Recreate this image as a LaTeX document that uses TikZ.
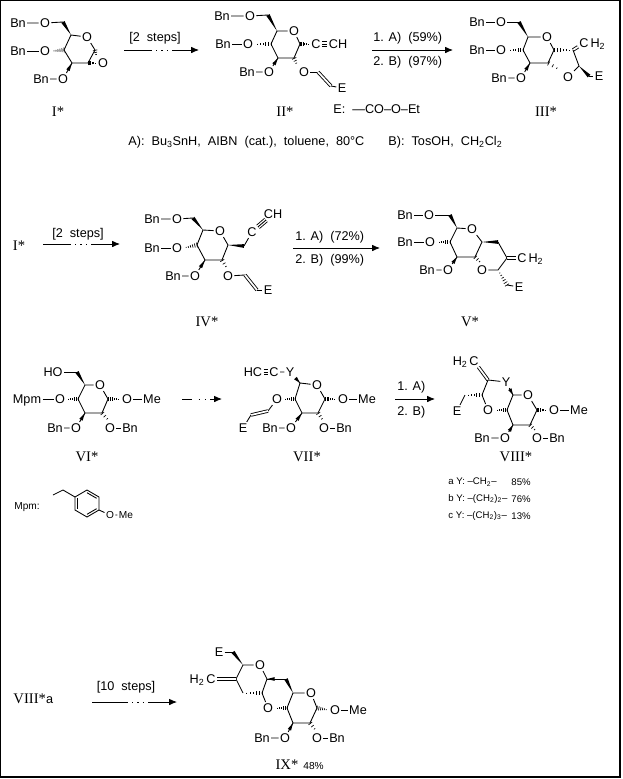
\documentclass[tikz,border=0pt]{standalone}
\usepackage{fontspec}
\setmainfont{Liberation Sans}
\newfontfamily\serifnum{Liberation Serif}
\usetikzlibrary{arrows.meta,calc,positioning}
\newcommand\chemfont{\fontsize{9.5}{11}\selectfont}
\newcommand\smallchem{\fontsize{7.6}{9}\selectfont}
\newcommand\tablefont{\fontsize{7.2}{9}\selectfont}
\newcommand\cmpdfont{\serifnum\fontsize{11}{13}\selectfont}
% bold wedge: narrow at #2, wide end at fraction #1 toward #3
\newcommand\wedgebond[3][1]{\fill ($(#2)$) -- ($(#2)!#1!(#3)!1.4pt!90:(#2)$) -- ($(#2)!#1!(#3)!1.4pt!-90:(#2)$) -- cycle;}
% hashed wedge: narrow at #2, wide at #3
\newcommand\hashbond[3][0.2,0.36,0.52,0.68,0.84,1]{\foreach \hs in {#1}{\draw[line width=0.5pt] ($(#2)!\hs!(#3)!\hs*1.8pt!90:(#2)$) -- ($(#2)!\hs!(#3)!\hs*1.8pt!-90:(#2)$);}}
\begin{document}
\begin{tikzpicture}[x=0.75pt,y=0.75pt,yscale=-1,line width=0.65pt,
  atom/.style={inner sep=0.8pt,text height=6.8pt,text depth=0pt,font=\chemfont},
  satom/.style={atom,text height=5.4pt,font=\smallchem},
  sub/.style={inner sep=0pt,font=\chemfont},
  txt/.style={inner sep=0pt,anchor=west,font=\chemfont},
  stxt/.style={txt,font=\smallchem},
  ttxt/.style={txt,font=\tablefont},
  cmpd/.style={inner sep=0pt,font=\cmpdfont},
  dbl/.style={double,double distance=1.3pt},
  trpl/.style={double,double distance=2.6pt},
  rxn/.style={-{Latex[length=6pt,width=5pt]}},
  stepsarrow/.style={rxn,dash pattern=on #1 off 3pt on 1.1pt off 3pt on 1.1pt off 3pt on 1.1pt off 3pt on 80pt}]
\useasboundingbox (0,0) rectangle (622,779);
\draw[line width=1.1pt] (0.75,0.75) rectangle (620,777);

% I*
\node[atom] (p1bn6) at (18,23) {Bn};
\node[atom] (p1o6) at (45,23) {O};
\coordinate (p1c6) at (63,22);
\coordinate (p1c5) at (71,35);
\node[atom] (p1o5) at (87,37) {O};
\coordinate (p1c1) at (95,50);
\coordinate (p1c2) at (88,63);
\coordinate (p1c3) at (72,63);
\coordinate (p1c4) at (64,50);
\node[atom] (p1bn4) at (18,51) {Bn};
\node[atom] (p1o4) at (45,51) {O};
\node[atom] (p1bn3) at (41,79) {Bn};
\node[atom] (p1o3) at (63,79) {O};
\node[atom] (p1o1) at (103,63) {O};
\node[cmpd] (p1) at (58,112) {I*};
\draw (p1bn6) -- (p1o6) -- (p1c6);
\wedgebond{p1c5}{p1c6}
\draw (p1c1) -- (p1c2) -- (p1c3) -- (p1c4) -- (p1c5) -- (p1o5) -- (p1c1);
\draw (p1bn4) -- (p1o4);
\hashbond{p1o4.east}{p1c4}
\draw (p1bn3) -- (p1o3) -- (p1c3);
\wedgebond[0.45]{p1c3}{p1o3}
\hashbond[0.35,0.65,0.95]{p1o1.north west}{p1c1}
\hashbond{p1o1.west}{p1c2}

% I* -> II*
\coordinate (r1a) at (124,50);
\coordinate (r1b) at (199,50);
\draw[stepsarrow=21pt] (r1a) -- (r1b);
\node[txt,anchor=center] (r1t) at (155,38) {[2\ \ steps]};

% II*
\node[atom] (p2bn6) at (222,16) {Bn};
\node[atom] (p2o6) at (250,16) {O};
\coordinate (p2c6) at (268,15);
\coordinate (p2c5) at (277,31);
\node[atom] (p2o5) at (294,31) {O};
\coordinate (p2c1) at (300,44);
\coordinate (p2c2) at (294,58);
\coordinate (p2c3) at (278,58);
\coordinate (p2c4) at (271,44);
\node[atom] (p2bn4) at (223,44) {Bn};
\node[atom] (p2o4) at (248,44) {O};
\node[atom] (p2bn3) at (247,72) {Bn};
\node[atom] (p2o3) at (269,72) {O};
\node[atom] (p2ca) at (316,44) {C};
\node[atom] (p2cb) at (338,44) {CH};
\node[atom] (p2o2) at (304,72) {O};
\coordinate (p2v1) at (318,72);
\coordinate (p2v2) at (331,86);
\node[atom] (p2e) at (342,88) {E};
\node[cmpd] (p2) at (285,112) {II*};
\draw (p2bn6) -- (p2o6) -- (p2c6);
\wedgebond{p2c5}{p2c6}
\draw (p2c1) -- (p2c2) -- (p2c3) -- (p2c4) -- (p2c5) -- (p2o5) -- (p2c1);
\draw (p2bn4) -- (p2o4);
\hashbond{p2o4.east}{p2c4}
\draw (p2bn3) -- (p2o3) -- (p2c3);
\wedgebond[0.45]{p2c3}{p2o3}
\hashbond{p2ca.west}{p2c1}
\draw[trpl] (p2ca) -- (p2cb);
\draw (p2ca) -- (p2cb);
\hashbond[0.35,0.65,0.95]{p2o2.north west}{p2c2}
\draw (p2o2) -- (p2v1);
\draw[dbl] (p2v1) -- (p2v2);
\draw (p2v2) -- (p2e);
\node[txt] (p2def) at (333,109) {E:\ \ —CO–O–Et};

% II* -> III*
\coordinate (r2a) at (372,50);
\coordinate (r2b) at (453,50);
\draw[rxn] (r2a) -- (r2b);
\node[txt] (r2t) at (373,38) {1. A)\ \ (59\%)};
\node[txt] (r2u) at (373,62) {2. B)\ \ (97\%)};

% III*
\node[atom] (p3bn6) at (477,22) {Bn};
\node[atom] (p3o6) at (501,22) {O};
\coordinate (p3c6) at (519,22);
\coordinate (p3c5) at (528,37);
\node[atom] (p3o5) at (547,37) {O};
\coordinate (p3c1) at (554,50);
\coordinate (p3c2) at (548,63);
\coordinate (p3c3) at (530,63);
\coordinate (p3c4) at (523,50);
\node[atom] (p3bn4) at (477,50) {Bn};
\node[atom] (p3o4) at (501,50) {O};
\node[atom] (p3bn3) at (499,78) {Bn};
\node[atom] (p3o3) at (521,78) {O};
\coordinate (p3c7) at (573,50);
\node[atom] (p3cm) at (584,43) {C};
\node[sub,anchor=base west] (p3h2) at (p3cm.base east) {H\textsubscript{2}};
\coordinate (p3c8) at (579,66);
\node[atom] (p3o7) at (568,77) {O};
\coordinate (p3w) at (589,76);
\node[atom] (p3e) at (599,76) {E};
\node[cmpd] (p3) at (546,112) {III*};
\draw (p3bn6) -- (p3o6) -- (p3c6);
\wedgebond{p3c5}{p3c6}
\draw (p3c1) -- (p3c2) -- (p3c3) -- (p3c4) -- (p3c5) -- (p3o5) -- (p3c1);
\draw (p3bn4) -- (p3o4);
\hashbond{p3o4.east}{p3c4}
\draw (p3bn3) -- (p3o3) -- (p3c3);
\wedgebond[0.45]{p3c3}{p3o3}
\hashbond{p3c7}{p3c1}
\draw[dbl] (p3c7) -- (p3cm);
\draw (p3c7) -- (p3c8) -- (p3o7);
\hashbond[0.35,0.65,0.95]{p3o7.north west}{p3c2}
\wedgebond{p3c8}{p3w}
\draw (p3w) -- (p3e);

% reagents
\node[txt] (ra) at (128,142) {A):\ \ Bu\textsubscript{3}SnH,\ \ AIBN\ \ (cat.),\ \ toluene,\ \ 80°C};
\node[txt] (rb) at (388,142) {B):\ \ TosOH,\ \ CH\textsubscript{2}Cl\textsubscript{2}};

% I* -> IV*
\node[cmpd] (q1) at (19,246) {I*};
\coordinate (r3a) at (43,244);
\coordinate (r3b) at (120,244);
\draw[stepsarrow=21pt] (r3a) -- (r3b);
\node[txt,anchor=center] (r3t) at (78,234) {[2\ \ steps]};

% IV*
\node[atom] (p4bn6) at (152,219) {Bn};
\node[atom] (p4o6) at (177,219) {O};
\coordinate (p4c6) at (193,218);
\coordinate (p4c5) at (203,230);
\node[atom] (p4o5) at (220,231) {O};
\coordinate (p4c1) at (228,245);
\coordinate (p4c2) at (222,260);
\coordinate (p4c3) at (205,260);
\coordinate (p4c4) at (197,245);
\node[atom] (p4bn4) at (152,248) {Bn};
\node[atom] (p4o4) at (177,248) {O};
\node[atom] (p4bn3) at (173,276) {Bn};
\node[atom] (p4o3) at (195,276) {O};
\coordinate (p4c7) at (244,246);
\node[atom] (p4ca) at (252,232) {C};
\node[atom] (p4cb) at (273,214) {CH};
\node[atom] (p4o2) at (228,276) {O};
\coordinate (p4v1) at (245,275);
\coordinate (p4v2) at (257,290);
\node[atom] (p4e) at (268,290) {E};
\node[cmpd] (p4) at (207,322) {IV*};
\draw (p4bn6) -- (p4o6) -- (p4c6);
\wedgebond{p4c5}{p4c6}
\draw (p4c1) -- (p4c2) -- (p4c3) -- (p4c4) -- (p4c5) -- (p4o5) -- (p4c1);
\draw (p4bn4) -- (p4o4);
\hashbond{p4o4.east}{p4c4}
\draw (p4bn3) -- (p4o3) -- (p4c3);
\wedgebond[0.45]{p4c3}{p4o3}
\wedgebond{p4c1}{p4c7}
\draw (p4c7) -- (p4ca);
\draw[trpl] (p4ca) -- (p4cb);
\draw (p4ca) -- (p4cb);
\hashbond[0.35,0.65,0.95]{p4o2.north}{p4c2}
\draw (p4o2) -- (p4v1);
\draw[dbl] (p4v1) -- (p4v2);
\draw (p4v2) -- (p4e);

% IV* -> V*
\coordinate (r4a) at (293,248);
\coordinate (r4b) at (380,248);
\draw[rxn] (r4a) -- (r4b);
\node[txt] (r4t) at (295,237) {1. A)\ \ (72\%)};
\node[txt] (r4u) at (295,260) {2. B)\ \ (99\%)};

% V*
\node[atom] (p5bn6) at (405,215) {Bn};
\node[atom] (p5o6) at (429,215) {O};
\coordinate (p5c6) at (450,215);
\coordinate (p5c5) at (457,228);
\node[atom] (p5o5) at (472,229) {O};
\coordinate (p5c1) at (482,242);
\coordinate (p5c2) at (475,257);
\coordinate (p5c3) at (457,257);
\coordinate (p5c4) at (450,242);
\node[atom] (p5bn4) at (405,242) {Bn};
\node[atom] (p5o4) at (430,242) {O};
\node[atom] (p5bn3) at (427,270) {Bn};
\node[atom] (p5o3) at (448,270) {O};
\coordinate (p5c7) at (498,242);
\coordinate (p5c8) at (507,258);
\node[atom] (p5cm) at (522,258) {C};
\node[sub,anchor=base west] (p5h2) at (p5cm.base east) {H\textsubscript{2}};
\coordinate (p5c9) at (498,270);
\node[atom] (p5o2) at (482,270) {O};
\coordinate (p5w) at (507,285);
\node[atom] (p5e) at (519,287) {E};
\node[cmpd] (p5) at (470,322) {V*};
\draw (p5bn6) -- (p5o6) -- (p5c6);
\wedgebond{p5c5}{p5c6}
\draw (p5c1) -- (p5c2) -- (p5c3) -- (p5c4) -- (p5c5) -- (p5o5) -- (p5c1);
\draw (p5bn4) -- (p5o4);
\hashbond{p5o4.east}{p5c4}
\draw (p5bn3) -- (p5o3) -- (p5c3);
\wedgebond[0.45]{p5c3}{p5o3}
\wedgebond{p5c1}{p5c7}
\draw (p5c7) -- (p5c8);
\draw[dbl] (p5c8) -- (p5cm);
\draw (p5c8) -- (p5c9) -- (p5o2);
\hashbond[0.35,0.65,0.95]{p5o2.north}{p5c2}
\hashbond{p5c9}{p5w}
\draw (p5w) -- (p5e);

% VI*
\node[atom] (p6ho) at (53,372) {HO};
\coordinate (p6c6) at (77,372);
\coordinate (p6c5) at (85,385);
\node[atom] (p6o5) at (100,385) {O};
\coordinate (p6c1) at (108,399);
\coordinate (p6c2) at (102,413);
\coordinate (p6c3) at (85,413);
\coordinate (p6c4) at (78,399);
\node[atom] (p6mpm) at (27,399) {Mpm};
\node[atom] (p6o4) at (60,399) {O};
\node[atom] (p6o1) at (127,399) {O};
\node[atom] (p6me) at (152,399) {Me};
\node[atom] (p6bn3) at (55,428) {Bn};
\node[atom] (p6o3) at (76,428) {O};
\node[atom] (p6o2) at (110,428) {O};
\node[atom] (p6bn2) at (130,428) {Bn};
\node[cmpd] (p6) at (87,457) {VI*};
\draw (p6ho) -- (p6c6);
\wedgebond{p6c5}{p6c6}
\draw (p6c1) -- (p6c2) -- (p6c3) -- (p6c4) -- (p6c5) -- (p6o5) -- (p6c1);
\draw (p6mpm) -- (p6o4);
\hashbond{p6o4.east}{p6c4}
\hashbond{p6o1.west}{p6c1}
\draw (p6o1) -- (p6me);
\draw (p6bn3) -- (p6o3) -- (p6c3);
\wedgebond[0.45]{p6c3}{p6o3}
\hashbond[0.35,0.65,0.95]{p6o2.north}{p6c2}
\draw (p6o2) -- (p6bn2);

% VI* -> VII*
\coordinate (r5a) at (182,399);
\coordinate (r5b) at (222,399);
\draw[rxn,dash pattern=on 7.5pt off 5pt on 1.1pt off 3.5pt on 1.1pt off 3pt on 40pt] (r5a) -- (r5b);

% VII*
\node[atom] (p7hc) at (253,372) {HC};
\node[atom] (p7ca) at (274,372) {C};
\node[atom] (p7y) at (290,372) {Y};
\coordinate (p7c5) at (300,383);
\node[atom] (p7o5) at (317,385) {O};
\coordinate (p7c1) at (325,399);
\coordinate (p7c2) at (318,413);
\coordinate (p7c3) at (302,413);
\coordinate (p7c4) at (295,399);
\node[atom] (p7o4) at (277,399) {O};
\coordinate (p7v1) at (268,411);
\coordinate (p7v2) at (251,415);
\node[atom] (p7e) at (243,428) {E};
\node[atom] (p7bn3) at (270,428) {Bn};
\node[atom] (p7o3) at (291,428) {O};
\node[atom] (p7o1) at (343,399) {O};
\node[atom] (p7me) at (367,399) {Me};
\node[atom] (p7o2) at (324,428) {O};
\node[atom] (p7bn2) at (344,428) {Bn};
\node[cmpd] (p7) at (307,457) {VII*};
\draw[trpl] (p7hc) -- (p7ca);
\draw (p7hc) -- (p7ca);
\draw (p7ca) -- (p7y) -- (p7c5);
\wedgebond[0.45]{p7c5}{p7y}
\draw (p7c1) -- (p7c2) -- (p7c3) -- (p7c4) -- (p7c5) -- (p7o5) -- (p7c1);
\hashbond{p7o4.east}{p7c4}
\draw (p7o4) -- (p7v1);
\draw[dbl] (p7v1) -- (p7v2);
\draw (p7v2) -- (p7e);
\draw (p7bn3) -- (p7o3) -- (p7c3);
\wedgebond[0.45]{p7c3}{p7o3}
\hashbond{p7o1.west}{p7c1}
\draw (p7o1) -- (p7me);
\hashbond[0.35,0.65,0.95]{p7o2.north}{p7c2}
\draw (p7o2) -- (p7bn2);

% VII* -> VIII*
\coordinate (r6a) at (395,399);
\coordinate (r6b) at (435,399);
\draw[rxn] (r6a) -- (r6b);
\node[txt] (r6t) at (397,387) {1. A)};
\node[txt] (r6u) at (397,412) {2. B)};

% VIII*
\node[atom] (p8c) at (474,361) {C};
\node[sub,anchor=base east] (p8h2) at (p8c.base west) {H\textsubscript{2}};
\coordinate (p8cq) at (488,380);
\node[atom] (p8y) at (506,382) {Y};
\coordinate (p8c5) at (513,395);
\node[atom] (p8o5) at (528,395) {O};
\coordinate (p8c1) at (537,410);
\coordinate (p8c2) at (530,425);
\coordinate (p8c3) at (513,425);
\coordinate (p8c4) at (507,410);
\coordinate (p8cx) at (482,395);
\coordinate (p8e1) at (465,395);
\node[atom] (p8e) at (457,411) {E};
\node[atom] (p8o4) at (488,410) {O};
\node[atom] (p8o1) at (554,410) {O};
\node[atom] (p8me) at (579,410) {Me};
\node[atom] (p8bn3) at (482,438) {Bn};
\node[atom] (p8o3) at (505,438) {O};
\node[atom] (p8o2) at (537,438) {O};
\node[atom] (p8bn2) at (557,438) {Bn};
\node[cmpd] (p8) at (516,457) {VIII*};
\draw[dbl] (p8c) -- (p8cq);
\draw (p8cq) -- (p8y) -- (p8c5);
\wedgebond[0.45]{p8c5}{p8y}
\draw (p8c1) -- (p8c2) -- (p8c3) -- (p8c4) -- (p8c5) -- (p8o5) -- (p8c1);
\hashbond{p8o4.east}{p8c4}
\draw (p8o4) -- (p8cx) -- (p8cq);
\hashbond{p8e1}{p8cx}
\draw (p8e1) -- (p8e);
\hashbond{p8o1.west}{p8c1}
\draw (p8o1) -- (p8me);
\draw (p8bn3) -- (p8o3) -- (p8c3);
\wedgebond[0.45]{p8c3}{p8o3}
\hashbond[0.35,0.65,0.95]{p8o2.north}{p8c2}
\draw (p8o2) -- (p8bn2);
\node[ttxt] (p8ta) at (448,482) {a Y: –CH\textsubscript{2}–};
\node[ttxt] (p8pa) at (511,482) {85\%};
\node[ttxt] (p8tb) at (448,499) {b Y: –(CH\textsubscript{2})\textsubscript{2}–};
\node[ttxt] (p8pb) at (511,499) {76\%};
\node[ttxt] (p8tc) at (448,516) {c Y: –(CH\textsubscript{2})\textsubscript{3}–};
\node[ttxt] (p8pc) at (511,516) {13\%};

% Mpm
\node[satom] (p9mpm) at (27,506) {Mpm:};
\coordinate (p9c1) at (53,495);
\coordinate (p9c2) at (63,490);
\coordinate (p9r1) at (75,497);
\coordinate (p9r2) at (87,490);
\coordinate (p9r3) at (99,497);
\coordinate (p9r4) at (99,510);
\coordinate (p9r5) at (87,517);
\coordinate (p9r6) at (75,510);
\coordinate (p9m) at (87,503.5);
\node[satom] (p9o) at (110,515) {O};
\node[satom] (p9me) at (126,515) {Me};
\draw (p9c1) -- (p9c2) -- (p9r1);
\draw (p9r1) -- (p9r2) -- (p9r3) -- (p9r4) -- (p9r5) -- (p9r6) -- cycle;
\draw ($(p9r6)!0.2!(p9m)$) -- ($(p9r1)!0.2!(p9m)$);
\draw ($(p9r2)!0.2!(p9m)$) -- ($(p9r3)!0.2!(p9m)$);
\draw ($(p9r4)!0.2!(p9m)$) -- ($(p9r5)!0.2!(p9m)$);
\draw (p9r4) -- (p9o) -- (p9me);

% VIII*a -> IX*
\node[cmpd,anchor=west] (q2) at (13,699) {VIII*{\normalfont\chemfont a}};
\coordinate (r7a) at (92,702);
\coordinate (r7b) at (177,702);
\draw[stepsarrow=27pt] (r7a) -- (r7b);
\node[txt,anchor=center] (r7t) at (126,687) {[10\ \ steps]};

% IX*
\node[atom] (p11e) at (219,652) {E};
\coordinate (p11c7) at (233,652);
\coordinate (p11ca) at (243,665);
\node[atom] (p11oa) at (260,665) {O};
\coordinate (p11cb) at (267,679);
\coordinate (p11ch2) at (286,679);
\coordinate (p11ce) at (236,679);
\coordinate (p11cd) at (243,693);
\coordinate (p11cc) at (262,693);
\node[atom] (p11ob) at (268,708) {O};
\node[atom] (p11c) at (211,679) {C};
\node[sub,anchor=base east] (p11h2) at (p11c.base west) {H\textsubscript{2}};
\coordinate (p11c5) at (293,693);
\node[atom] (p11o5) at (311,693) {O};
\coordinate (p11c1) at (317,708);
\coordinate (p11c2) at (310,723);
\coordinate (p11c3) at (293,723);
\coordinate (p11c4) at (287,708);
\node[atom] (p11o1) at (335,710) {O};
\node[atom] (p11me) at (358,710) {Me};
\node[atom] (p11bn3) at (262,738) {Bn};
\node[atom] (p11o3) at (285,738) {O};
\node[atom] (p11o2) at (317,738) {O};
\node[atom] (p11bn2) at (337,738) {Bn};
\node[cmpd] (p11) at (287,765) {IX*};
\node[stxt] (p11y) at (303,766) {48\%};
\draw (p11e) -- (p11c7);
\wedgebond{p11ca}{p11c7}
\draw (p11ca) -- (p11oa) -- (p11cb);
\draw (p11cb) -- (p11ch2);
\wedgebond[0.4]{p11cb}{p11ch2}
\wedgebond{p11c5}{p11ch2}
\draw (p11ca) -- (p11ce) -- (p11cd);
\hashbond{p11cd}{p11cc}
\draw (p11cb) -- (p11cc) -- (p11ob);
\draw[dbl] (p11c) -- (p11ce);
\hashbond{p11ob.east}{p11c4}
\draw (p11c1) -- (p11c2) -- (p11c3) -- (p11c4) -- (p11c5) -- (p11o5) -- (p11c1);
\hashbond{p11o1.west}{p11c1}
\draw (p11o1) -- (p11me);
\draw (p11bn3) -- (p11o3) -- (p11c3);
\wedgebond[0.45]{p11c3}{p11o3}
\hashbond[0.35,0.65,0.95]{p11o2.north}{p11c2}
\draw (p11o2) -- (p11bn2);
\end{tikzpicture}
\end{document}
